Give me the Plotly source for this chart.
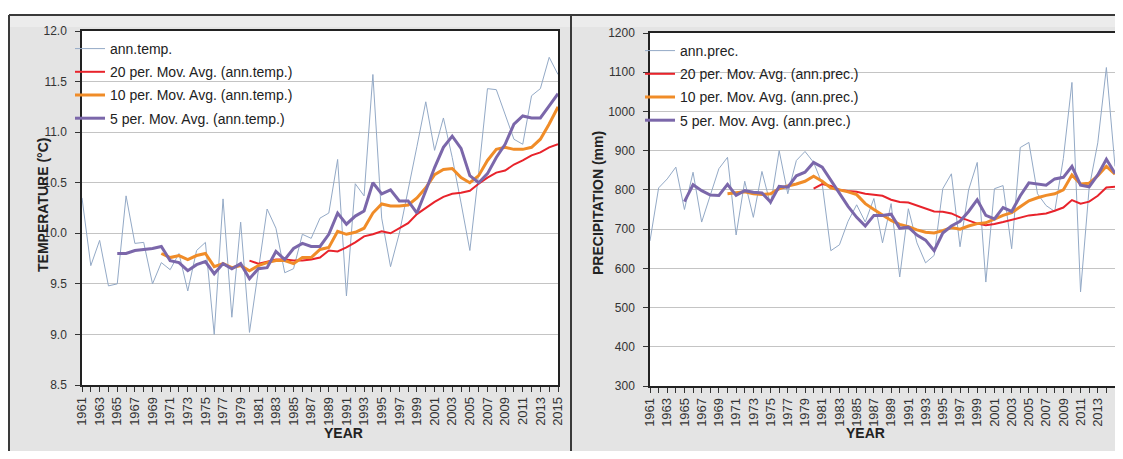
import plotly.graph_objects as go

years = list(range(1961, 2016))

ann_temp = [10.35, 9.68, 9.93, 9.48, 9.50, 10.37, 9.90, 9.91, 9.50, 9.71,
            9.64, 9.80, 9.43, 9.83, 9.91, 9.00, 10.34, 9.17, 10.11, 9.02,
            9.63, 10.24, 10.05, 9.61, 9.65, 9.99, 9.95, 10.15, 10.20, 10.73,
            9.38, 10.49, 10.37, 11.57, 10.15, 9.67, 10.00, 10.42, 10.86, 11.30,
            10.82, 11.14, 10.75, 10.30, 9.83, 10.60, 11.43, 11.42, 11.18, 10.93,
            10.88, 11.36, 11.43, 11.74, 11.57]

ma5_temp = [None] * 4 + [
    9.80, 9.80, 9.83, 9.84, 9.85, 9.87, 9.73, 9.71, 9.63, 9.69,
    9.72, 9.60, 9.70, 9.65, 9.70, 9.55, 9.65, 9.66, 9.82, 9.74,
    9.85, 9.90, 9.87, 9.87, 9.99, 10.20, 10.09, 10.17, 10.22, 10.50,
    10.39, 10.43, 10.32, 10.32, 10.20, 10.42, 10.65, 10.85, 10.96, 10.84,
    10.57, 10.50, 10.59, 10.75, 10.88, 11.08, 11.16, 11.14, 11.14, 11.26,
    11.38]

ma10_temp = [None] * 9 + [
    9.80, 9.76, 9.78, 9.74, 9.78, 9.80, 9.67, 9.70, 9.66, 9.68,
    9.63, 9.68, 9.71, 9.73, 9.73, 9.70, 9.76, 9.76, 9.84, 9.86,
    10.02, 9.99, 10.01, 10.05, 10.20, 10.29, 10.27, 10.27, 10.28, 10.35,
    10.45, 10.58, 10.63, 10.64, 10.55, 10.50, 10.57, 10.72, 10.83, 10.85,
    10.83, 10.83, 10.85, 10.93, 11.08, 11.25]

ma20_temp = [None] * 19 + [
    9.73, 9.70, 9.72, 9.74, 9.74, 9.73, 9.73, 9.74, 9.76, 9.83,
    9.82, 9.86, 9.91, 9.97, 9.99, 10.02, 10.00, 10.05, 10.10, 10.19,
    10.25, 10.31, 10.36, 10.39, 10.40, 10.42, 10.49, 10.55, 10.60, 10.62,
    10.68, 10.72, 10.77, 10.80, 10.85, 10.88]

ann_prec = [670, 805, 828, 858, 750, 845, 718, 786, 854, 883,
            685, 822, 730, 847, 762, 900, 790, 875, 898, 870,
            815, 645, 660, 720, 762, 718, 778, 665, 765, 578,
            752, 665, 614, 633, 803, 841, 655, 800, 870, 565,
            803, 811, 650, 908, 921, 790, 760, 745, 880, 1074,
            540, 805, 920, 1112, 860]

ma5_prec = [None] * 4 + [
    770, 813, 798, 787, 786, 814, 786, 798, 794, 792,
    769, 809, 807, 836, 845, 870, 858, 824, 790, 758,
    730, 708, 735, 735, 738, 702, 705, 685, 672, 645,
    690, 708, 720, 745, 775, 735, 726, 755, 745, 785,
    818, 815, 812, 828, 832, 860, 812, 808, 838, 878,
    842]

ma10_prec = [None] * 9 + [
    790, 792, 795, 790, 788, 790, 803, 810, 815, 822,
    835, 822, 805, 800, 795, 788, 765, 750, 735, 722,
    712, 706, 698, 692, 690, 696, 704, 700, 708, 714,
    716, 726, 735, 742, 756, 772, 780, 786, 790, 800,
    838, 815, 817, 836, 860, 840]

ma20_prec = [None] * 19 + [
    803, 815, 810, 800, 797, 795, 790, 788, 785, 775,
    769, 768, 760, 752, 745, 744, 740, 730, 722, 714,
    710, 713, 718, 724, 730, 735, 737, 740, 747, 755,
    774, 765, 770, 785, 806, 808]

# page is 1123x459; the browser body keeps its default 8px margin,
# so the figure itself is 16px smaller and sits at (8, 8)
OFF = 8
W, H = 1123 - 2 * OFF, 459 - 2 * OFF


def px(x):
    return min(max((x - OFF) / W, 0.0), 1.0)


def py(y):
    return min(max(1 - (y - OFF) / H, 0.0), 1.0)


C_ANN = "#93a9c6"
C_20 = "#e8232b"
C_10 = "#f08c28"
C_5 = "#7b67aa"

FONT = "Liberation Sans"

fig = go.Figure()

series_left = [
    ("ann.temp.", ann_temp, C_ANN, 1),
    ("20 per. Mov. Avg. (ann.temp.)", ma20_temp, C_20, 2),
    ("10 per. Mov. Avg. (ann.temp.)", ma10_temp, C_10, 3),
    ("5 per. Mov. Avg. (ann.temp.)", ma5_temp, C_5, 3),
]
series_right = [
    ("ann.prec.", ann_prec, C_ANN, 1),
    ("20 per. Mov. Avg. (ann.prec.)", ma20_prec, C_20, 2),
    ("10 per. Mov. Avg. (ann.prec.)", ma10_prec, C_10, 3),
    ("5 per. Mov. Avg. (ann.prec.)", ma5_prec, C_5, 3),
]

for i, (name, vals, col, w) in enumerate(series_left):
    fig.add_trace(go.Scatter(x=years, y=vals, mode="lines", name=name,
                             line=dict(color=col, width=w),
                             xaxis="x", yaxis="y", legend="legend",
                             legendgroup="L%d" % i))
for i, (name, vals, col, w) in enumerate(series_right):
    fig.add_trace(go.Scatter(x=years, y=vals, mode="lines", name=name,
                             line=dict(color=col, width=w),
                             xaxis="x2", yaxis="y2", legend="legend2",
                             legendgroup="R%d" % i))

axis_common_x = dict(
    range=[1961, 2015], tickmode="linear", tick0=1961, dtick=2,
    tickangle=-90, ticks="outside", ticklen=5, tickcolor="#333",
    minor=dict(dtick=1, tick0=1961, ticks="outside", ticklen=5, tickcolor="#333"),
    showline=True, linecolor="#222", linewidth=1.5, mirror=True,
    showgrid=False, zeroline=False, automargin=False,
    tickfont=dict(family=FONT, size=13, color="#333"),
)
axis_common_y = dict(
    ticks="outside", ticklen=5, tickcolor="#333",
    showline=True, linecolor="#222", linewidth=1.5, mirror=True,
    showgrid=True, gridcolor="#c4c4c4", gridwidth=1, zeroline=False,
    automargin=False,
    tickfont=dict(family=FONT, size=12, color="#333"),
    ticklabelstandoff=6,
)

legend_common = dict(
    xanchor="left", yanchor="top", bgcolor="rgba(0,0,0,0)",
    font=dict(family=FONT, size=14, color="#222"),
    tracegroupgap=2, itemwidth=30, traceorder="grouped",
)

fig.update_layout(
    width=W, height=H, autosize=False,
    margin=dict(l=0, r=0, t=0, b=0, pad=0, autoexpand=False),
    paper_bgcolor="#e4e4e4",
    plot_bgcolor="#ffffff",
    xaxis=dict(domain=[px(82), px(558)], anchor="y", **axis_common_x),
    yaxis=dict(domain=[py(385), py(31)], anchor="x", range=[8.5, 12.0],
               tick0=8.5, dtick=0.5, tickformat=".1f", **axis_common_y),
    xaxis2=dict(domain=[px(650), px(1115)], anchor="y2", **axis_common_x),
    yaxis2=dict(domain=[py(386), py(33)], anchor="x2", range=[300, 1200],
                tick0=300, dtick=100, **axis_common_y),
    legend=dict(x=px(70), y=py(33), **legend_common),
    legend2=dict(x=px(640), y=py(35), **legend_common),
    showlegend=True,
    shapes=[
        dict(type="rect", xref="paper", yref="paper", x0=0, x1=1, y0=py(15), y1=1,
             fillcolor="#ffffff", line=dict(width=0), layer="below"),
        dict(type="rect", xref="paper", yref="paper", x0=px(10), x1=1, y0=py(27), y1=py(16),
             fillcolor="#ececec", line=dict(width=0), layer="below"),
        dict(type="line", xref="paper", yref="paper", x0=px(9), x1=1, y0=py(15), y1=py(15),
             line=dict(color="#3a3a3a", width=2), layer="below"),
        dict(type="line", xref="paper", yref="paper", x0=px(9), x1=px(9), y0=0, y1=py(15),
             line=dict(color="#3a3a3a", width=2), layer="below"),
        dict(type="line", xref="paper", yref="paper", x0=px(571), x1=px(571), y0=0, y1=py(15),
             line=dict(color="#3a3a3a", width=2), layer="below"),
    ],
    annotations=[
        dict(text="<b>TEMPERATURE (°C)</b>", xref="paper", yref="paper",
             x=px(33), y=py(205), textangle=-90, showarrow=False,
             font=dict(family=FONT, size=14, color="#222")),
        dict(text="<b>PRECIPITATION (mm)</b>", xref="paper", yref="paper",
             x=px(598), y=py(203), textangle=-90, showarrow=False,
             font=dict(family=FONT, size=14, color="#222")),
        dict(text="<b>YEAR</b>", xref="paper", yref="paper",
             x=px(322), y=py(443), showarrow=False,
             font=dict(family=FONT, size=14, color="#222")),
        dict(text="<b>YEAR</b>", xref="paper", yref="paper",
             x=px(887), y=py(443), showarrow=False,
             font=dict(family=FONT, size=14, color="#222")),
    ],
)

fig.write_html("out.html", config={"displayModeBar": False})
